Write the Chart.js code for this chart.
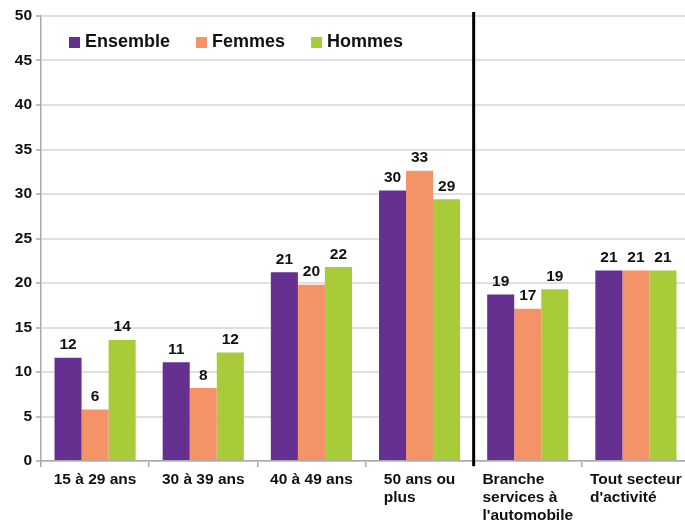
<!DOCTYPE html>
<html>
<head>
<meta charset="utf-8">
<script src="https://cdn.jsdelivr.net/npm/chart.js@4"></script>
<style>
  html, body { margin: 0; padding: 0; background: #fff; overflow: hidden; width: 685px; height: 521px; }
  canvas { display: block; }
</style>
</head>
<body>
<canvas id="chart" width="690" height="521"></canvas>
<script>
const categories = [
    ['15 à 29 ans'],
    ['30 à 39 ans'],
    ['40 à 49 ans'],
    ['50 ans ou', 'plus'],
    ['Branche', 'services à', "l'automobile"],
    ['Tout secteur', "d'activité"]
];
const ensemble = [11.6, 11.1, 21.2, 30.4, 18.7, 21.4];
const femmes = [5.8, 8.2, 19.8, 32.6, 17.1, 21.4];
const hommes = [13.6, 12.2, 21.8, 29.4, 19.3, 21.4];
const yMin = 0;
const yMax = 50;
const yStep = 5;

const FONT = "Arial, 'Liberation Sans', sans-serif";

// values above the bars
const valueLabels = {
    id: 'valueLabels',
    afterDatasetsDraw(chart) {
        const ctx = chart.ctx;
        ctx.save();
        ctx.font = 'bold 15.5px ' + FONT;
        ctx.fillStyle = '#111';
        ctx.textAlign = 'center';
        ctx.textBaseline = 'bottom';
        chart.data.datasets.forEach((ds, i) => {
            chart.getDatasetMeta(i).data.forEach((bar, j) => {
                ctx.fillText(Math.round(ds.data[j]), bar.x, bar.y - 5);
            });
        });
        ctx.restore();
    }
};

// category labels, lines left aligned inside a centered block
const xLabels = {
    id: 'xLabels',
    afterDraw(chart) {
        const ctx = chart.ctx;
        const x = chart.scales.x;
        ctx.save();
        ctx.font = 'bold 15.5px ' + FONT;
        ctx.fillStyle = '#111';
        ctx.textAlign = 'left';
        ctx.textBaseline = 'middle';
        categories.forEach((lines, i) => {
            const w = Math.max(...lines.map(l => ctx.measureText(l).width));
            const left = x.getPixelForValue(i) - w / 2;
            lines.forEach((l, k) => ctx.fillText(l, left, chart.chartArea.bottom + 19 + k * 18));
        });
        ctx.restore();
    }
};

// black separator between age groups and the two totals
const separator = {
    id: 'separator',
    afterDraw(chart) {
        const ctx = chart.ctx;
        const x = chart.scales.x;
        const px = (x.getPixelForValue(3) + x.getPixelForValue(4)) / 2;
        ctx.save();
        ctx.strokeStyle = '#000';
        ctx.lineWidth = 3;
        ctx.beginPath();
        ctx.moveTo(px, chart.chartArea.top - 4);
        ctx.lineTo(px, chart.chartArea.bottom + 5);
        ctx.stroke();
        ctx.restore();
    }
};

// legend inside the plot, top left
const innerLegend = {
    id: 'innerLegend',
    afterDraw(chart) {
        const ctx = chart.ctx;
        ctx.save();
        ctx.font = 'bold 18px ' + FONT;
        ctx.textBaseline = 'middle';
        ctx.textAlign = 'left';
        let cx = chart.chartArea.left + 28;
        const cy = chart.chartArea.top + 26.5;
        chart.data.datasets.forEach(ds => {
            ctx.fillStyle = ds.backgroundColor;
            ctx.fillRect(cx, cy - 5.5, 11, 11);
            ctx.fillStyle = '#111';
            ctx.fillText(ds.label, cx + 16, cy);
            cx += 16 + ctx.measureText(ds.label).width + 26;
        });
        ctx.restore();
    }
};

new Chart(document.getElementById('chart'), {
    type: 'bar',
    data: {
        labels: categories,
        datasets: [
            { label: 'Ensemble', data: ensemble, backgroundColor: '#65308f' },
            { label: 'Femmes', data: femmes, backgroundColor: '#f59368' },
            { label: 'Hommes', data: hommes, backgroundColor: '#a8cb3a' }
        ]
    },
    options: {
        responsive: false,
        animation: false,
        devicePixelRatio: 1,
        layout: { padding: { top: 16, right: 0, left: 0, bottom: 0 } },
        datasets: { bar: { categoryPercentage: 0.75, barPercentage: 1.0 } },
        plugins: { legend: { display: false }, tooltip: { enabled: false } },
        scales: {
            x: {
                offset: true,
                ticks: { display: false },
                grid: { drawOnChartArea: false, tickLength: 6, color: '#aaa', lineWidth: 1.5 },
                border: { color: '#aaa', width: 1.5 },
                afterFit(scale) { scale.height = 60; }
            },
            y: {
                min: yMin,
                max: yMax,
                ticks: { stepSize: yStep, color: '#111', padding: 4, font: { family: FONT, size: 15.5, weight: 'bold' } },
                grid: { color: '#e0e0e0', lineWidth: 2, tickLength: 5, tickColor: '#aaa', tickWidth: 1.5 },
                border: { color: '#aaa', width: 1.5 },
                afterFit(scale) { scale.width = 41; }
            }
        }
    },
    plugins: [valueLabels, xLabels, separator, innerLegend]
});
</script>
</body>
</html>
